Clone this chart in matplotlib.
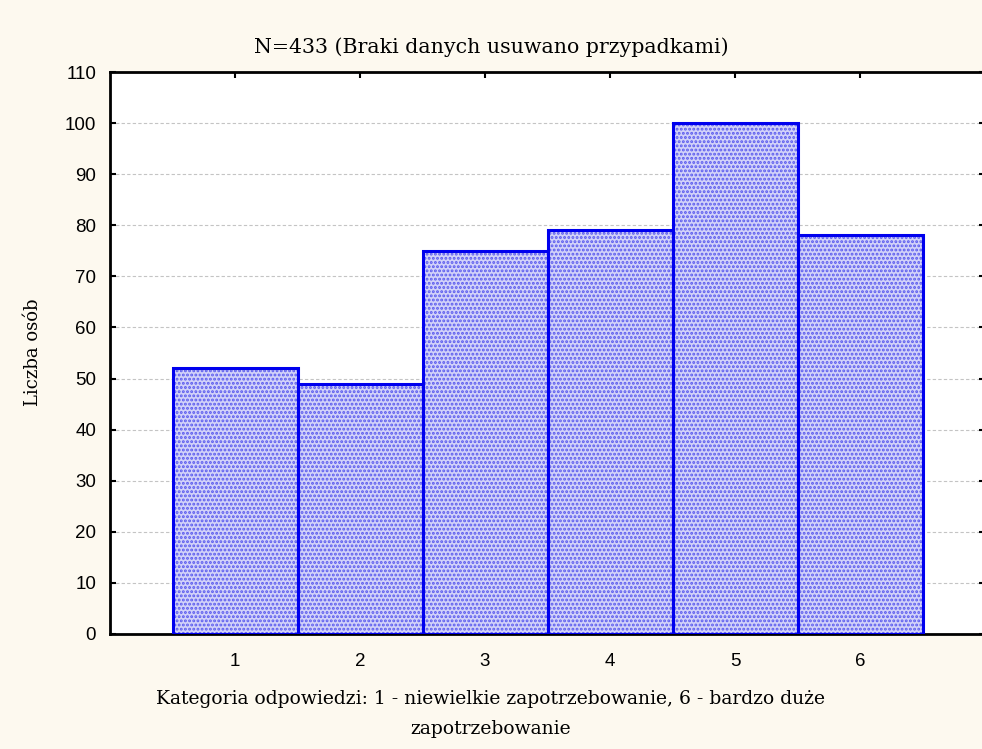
import matplotlib.pyplot as plt
import numpy as np

# Response category counts
categories = [1, 2, 3, 4, 5, 6]
counts = [52, 49, 75, 79, 100, 78]
y_ticks = list(range(0, 111, 10))

title = "N=433 (Braki danych usuwano przypadkami)"
x_label = "Kategoria odpowiedzi: 1 - niewielkie zapotrzebowanie, 6 - bardzo duże\nzapotrzebowanie"
y_label = "Liczba osób"

BG = "#fdf9ef"
SERIF = "DejaVu Serif"
SANS = "Liberation Sans"


def main() -> None:
    plt.rcParams["hatch.linewidth"] = 1.4
    fig = plt.figure(figsize=(9.82, 7.49), dpi=100, facecolor=BG)
    ax = fig.add_axes([110 / 982, 1 - 634 / 749, 875 / 982, (634 - 72) / 749])
    ax.set_facecolor("white")

    # fill with a dotted pattern, then outline on top
    ax.bar(categories, counts, width=1.0, color="#d2d2f9", edgecolor="#5a5aee",
           hatch="....", linewidth=0, zorder=2)
    ax.bar(categories, counts, width=1.0, fill=False, edgecolor="#0000ee",
           linewidth=2.2, zorder=3)

    ax.set_xlim(0, 7)
    ax.set_ylim(0, 110)
    ax.set_xticks(categories)
    ax.set_yticks(y_ticks)
    ax.tick_params(direction="in", length=4, width=1.5, top=True, right=True,
                   labelsize=13.5)
    ax.tick_params(axis="x", pad=14)
    ax.tick_params(axis="y", pad=10)
    for lab in ax.get_xticklabels() + ax.get_yticklabels():
        lab.set_family(SANS)

    ax.yaxis.grid(True, linestyle=(0, (3, 2)), color="#c4c4c4", linewidth=0.8, zorder=0)
    ax.set_axisbelow(True)
    for side in ["left", "bottom", "top"]:
        ax.spines[side].set_linewidth(2)
    ax.spines["right"].set_visible(False)

    fig.text(0.5, 1 - 47 / 749, title, ha="center", va="center",
             family=SERIF, fontsize=14.8)
    fig.text(0.5, 1 - 714 / 749, x_label, ha="center", va="center",
             family=SERIF, fontsize=13.5, linespacing=1.85)
    fig.text(33 / 982, 1 - 352 / 749, y_label, ha="center", va="center",
             rotation=90, family=SERIF, fontsize=13)

    fig.savefig("out.png", dpi=100, facecolor=BG)


if __name__ == "__main__":
    main()
